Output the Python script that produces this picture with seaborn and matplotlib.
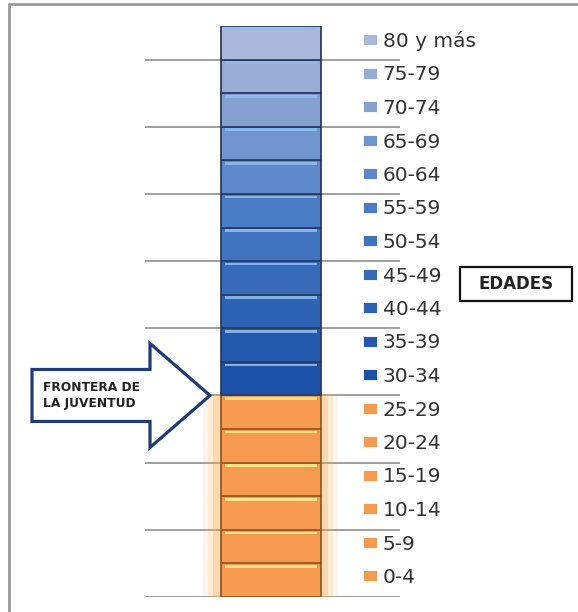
import matplotlib
matplotlib.use("Agg")
import matplotlib.pyplot as plt
import seaborn as sns
from matplotlib.patches import Rectangle, Polygon
from matplotlib.lines import Line2D

# grupos de edad, de abajo hacia arriba
grupos = ["0-4", "5-9", "10-14", "15-19", "20-24", "25-29",
          "30-34", "35-39", "40-44", "45-49", "50-54", "55-59",
          "60-64", "65-69", "70-74", "75-79", "80 y más"]
segmento = [1, 1, 1, 1, 1, 1, 1, 1, 1, 1, 1, 1, 1, 1, 1, 1, 1]
ultimo_joven = "25-29"
etiqueta_frontera = "FRONTERA DE\nLA JUVENTUD"
titulo = "EDADES"

sns.set_theme(style="white")
plt.rcParams["font.family"] = ["DejaVu Sans"]

n_joven = grupos.index(ultimo_joven) + 1
naranja = ["#f59a4e"] * n_joven
azules = sns.blend_palette(["#1b52a8", "#4a7cc5", "#aab9d9"], len(grupos) - n_joven)
colores = naranja + list(azules)

fig = plt.figure(figsize=(5.78, 6.12), dpi=100)
ax = fig.add_axes([145 / 578, 15 / 612, 255 / 578, 571 / 612])

# brillo naranja detrás de los segmentos jóvenes
alto_joven = sum(segmento[:n_joven])
for w, a in [(1.08, 0.10), (1.0, 0.15), (0.92, 0.25)]:
    sns.barplot(x=[0], y=[alto_joven + 0.15], bottom=-0.1, width=w,
                color="#f7a84a", alpha=a, linewidth=0, saturation=1,
                ax=ax, zorder=1)

base = 0
for g, h, c in zip(grupos, segmento, colores):
    joven = grupos.index(g) < n_joven
    borde = "#9a5a26" if joven else "#2c3c60"
    luz = "#fde98c" if joven else "#8cbcf0"
    sns.barplot(x=[0], y=[h], bottom=base, width=0.8, color=c, saturation=1,
                edgecolor=borde, linewidth=1.3, ax=ax, zorder=3)
    sns.barplot(x=[0], y=[0.08], bottom=base + h - 0.13, width=0.74,
                color=luz, linewidth=0, alpha=0.9, saturation=1,
                ax=ax, zorder=4)
    base += h

ax.set_xlim(-1.008, 1.032)
ax.set_ylim(0, sum(segmento))
ax.set_yticks(range(0, sum(segmento), 2))
ax.set_xticks([])
ax.set_yticklabels([])
ax.set_xlabel("")
ax.set_ylabel("")
ax.grid(axis="y", color="#858585", linewidth=1.1, zorder=0)
ax.set_axisbelow(True)
for s in ax.spines.values():
    s.set_visible(False)
ax.tick_params(left=False, bottom=False)

# leyenda
handles = [Rectangle((0, 0), 1, 1, facecolor=c, edgecolor="#ffffff", linewidth=0.6)
           for c in colores][::-1]
fig.legend(handles, grupos[::-1], loc="upper left",
           bbox_to_anchor=(363 / 578, 1 - 31 / 612), frameon=False,
           fontsize=14.5, labelspacing=0.72, handlelength=0.68,
           handleheight=0.45, handletextpad=0.3, borderpad=0,
           borderaxespad=0, labelcolor="#333333")

# flecha de la frontera
fig.canvas.draw()
tx, ty = ax.transData.transform((-0.4, sum(segmento[:n_joven])))
tx -= 11
pts = [(tx, ty), (tx - 60, ty + 52), (tx - 60, ty + 26), (tx - 178, ty + 26),
       (tx - 178, ty - 26), (tx - 60, ty - 26), (tx - 60, ty - 52)]
fig.add_artist(Polygon(pts, closed=True, transform=None, facecolor="white",
                       edgecolor="#1f3c73", linewidth=2.3, zorder=5))
fig.text((tx - 167) / 578, ty / 612, etiqueta_frontera, ha="left", va="center",
         fontsize=8.8, fontweight="bold", color="#222222", linespacing=1.25,
         zorder=6)

# recuadro EDADES
fig.add_artist(Rectangle((460 / 578, 1 - 301 / 612), 112 / 578, 34 / 612,
                         transform=fig.transFigure, facecolor="white",
                         edgecolor="#111111", linewidth=1.6))
fig.text(516 / 578, 1 - 284 / 612, titulo, ha="center", va="center",
         fontsize=12, fontweight="bold", color="#222222")

# marco exterior
fig.add_artist(Line2D([9 / 578, 9 / 578], [0, 1 - 4 / 612],
                      transform=fig.transFigure, color="#9a9a9a", linewidth=2))
fig.add_artist(Line2D([9 / 578, 1], [1 - 4 / 612, 1 - 4 / 612],
                      transform=fig.transFigure, color="#9a9a9a", linewidth=2))

fig.savefig("out.png", dpi=100)
